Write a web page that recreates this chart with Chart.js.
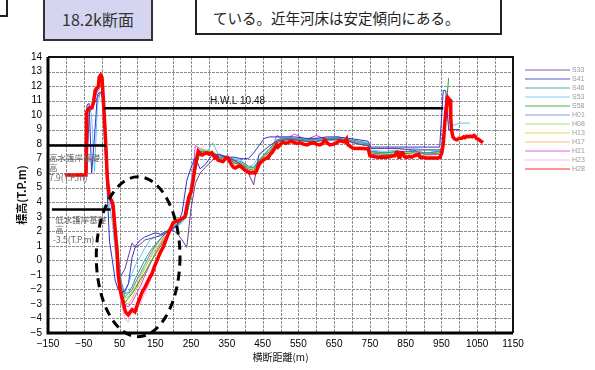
<!DOCTYPE html>
<html lang="ja">
<head>
<meta charset="utf-8">
<title>18.2k断面</title>
<script src="https://cdn.jsdelivr.net/npm/chart.js@4.4.1/dist/chart.umd.min.js"></script>
<style>
  html, body { margin: 0; padding: 0; background: #fff; }
  #wrap { position: relative; width: 595px; height: 370px; overflow: hidden; background: #fff; }
  #wrap canvas { position: absolute; left: 0; top: 0; }
  .corner { position: absolute; left: -12px; top: -12px; width: 16px; height: 25px; border: 2px solid #222; }
  .section-box { position: absolute; left: 43px; top: -4px; width: 106px; height: 41px;
    background: #d5d5f1; border: 2px solid #333; color: #333;
    font: 16px "Noto Sans CJK JP", sans-serif; display: flex; align-items: center; justify-content: center; }
  .note-box { position: absolute; left: 195px; top: -40px; width: 303px; height: 71px;
    background: #fff; border: 2px solid #222; }
  .note-text { position: absolute; left: 213px; top: 7px; line-height: 20px; color: #222;
    font: 14.5px "Noto Sans CJK JP", sans-serif; white-space: nowrap; }
</style>
</head>
<body>
<div id="wrap">
  <canvas id="chart" width="595" height="370"></canvas>
  <div class="corner"></div>
  <div class="section-box">18.2k断面</div>
  <div class="note-box"></div>
  <div class="note-text">ている。近年河床は安定傾向にある。</div>
</div>
<script>
// 測量年度
const surveyYears = ['S33', 'S41', 'S46', 'S53', 'S58', 'H01', 'H08', 'H13', 'H17', 'H21', 'H23', 'H28'];

// 横断距離 (m) of the survey points shared by the older surveys
const stations = [-45, -41, -35, -28, -20, -12, -5, 0, 5, 10,
  16, 22, 30, 38, 46, 55, 65, 75, 85, 95,
  108, 120, 135, 150, 165, 180, 195, 210, 225, 238,
  250, 262, 275, 290, 310, 330, 350, 370, 390, 410,
  425, 440, 455, 470, 490, 510, 540, 570, 600, 630,
  660, 690, 720, 745, 752, 790, 830, 870, 910, 945,
  955, 962, 970, 985, 1000, 1030];

// 標高 (T.P.m) per survey year, one value per station
const S33 = [6.0, 6.0, 10.2, 10.4, 10.8, 11.2, 11.5, 11.6, 10.8, 8.0,
  5.6, 4.4, 3.6, 1.5, -1.1, -1.0, -0.6, 0.3, 1.2, 0.9,
  1.1, 1.4, 1.5, 1.6, 1.7, 1.9, 2.1, 1.9, 1.4, 0.9,
  3.6, 5.3, 6.0, 6.4, 6.9, 7.25, 7.0, 6.9, 6.6, 6.0,
  5.2, 7.3, 7.6, 7.9, 8.2, 8.3, 8.3, 8.2, 8.2, 8.3,
  8.3, 8.2, 8.0, 7.9, 7.7, 7.7, 7.7, 7.6, 7.6, 7.6,
  7.7, 11.3, null, null, null, null];
const S41 = [6.0, 10.7, 10.8, 6.0, 8.5, 11.4, 11.6, 11.5, 11.0, 8.0,
  4.5, 1.3, 0.0, -1.4, -2.0, -2.2, -2.1, -1.6, 0.2, 1.0,
  1.4, 1.6, 1.75, 1.9, 1.8, 2.0, 2.1, 2.4, 3.3, 5.5,
  6.4, 7.1, 6.3, 6.6, 7.3, 7.3, 7.1, 7.1, 7.0, 7.0,
  7.4, 7.9, 8.4, 8.5, 8.5, 8.5, 8.5, 8.4, 8.4, 8.5,
  8.5, 8.4, 8.3, 8.2, 7.8, 7.8, 7.8, 7.8, 7.8, 7.8,
  11.7, 11.7, 9.0, 9.0, 9.0, null];
const S46 = [6.0, 10.4, 10.5, 10.6, 11.3, 11.7, 12.0, 12.1, 10.2, 7.5,
  5.2, 4.3, 3.5, 2.2, 0.5, -1.5, -2.3, -2.2, -1.8, -1.2,
  -0.6, 0.0, 0.6, 1.1, 1.5, 1.9, 2.2, 2.4, 2.7, 3.1,
  4.6, 6.6, 7.5, 7.5, 7.4, 7.1, 7.2, 6.9, 6.8, 6.5,
  6.4, 6.9, 7.3, 7.7, 8.3, 8.4, 8.4, 8.3, 8.35, 8.4,
  8.4, 8.3, 8.2, 8.0, 7.5, 7.4, 7.5, 7.5, 7.4, 7.5,
  7.9, 10.7, 10.6, null, null, null];
const S53 = [6.0, 10.5, 10.6, 10.0, 6.1, 10.6, 11.4, 11.5, 9.5, 7.0,
  5.0, 3.8, 2.6, 0.6, -1.0, -2.0, -2.25, -1.6, -0.9, -0.3,
  0.25, 0.8, 1.4, 1.6, 1.75, 1.9, 2.2, 2.3, 2.6, 3.0,
  5.5, 7.3, 7.6, 7.3, 8.1, 7.1, 7.1, 7.0, 6.9, 6.4,
  6.6, 7.2, 7.6, 7.9, 8.3, 8.5, 8.4, 8.4, 8.3, 8.4,
  8.5, 8.3, 8.2, 8.1, 7.6, 7.5, 7.6, 7.7, 7.6, 7.6,
  8.0, 10.4, 9.45, 9.3, 9.45, 9.45];
const S58 = [6.0, 10.3, 10.5, 10.6, 11.4, 11.8, 12.0, 12.0, 10.5, 8.2,
  6.0, 4.4, 3.7, 2.0, -0.8, -2.1, -2.9, -2.6, -2.3, -1.9,
  -1.3, -0.9, -0.2, 0.4, 1.0, 1.6, 2.1, 2.4, 2.8, 3.2,
  4.4, 6.3, 7.4, 7.5, 7.4, 7.0, 7.1, 6.7, 6.6, 6.3,
  6.2, 6.8, 7.2, 7.5, 8.1, 8.3, 8.3, 8.2, 8.2, 8.3,
  8.3, 8.2, 8.0, 7.9, 7.4, 7.3, 7.3, 7.4, 7.3, 7.4,
  7.6, 10.2, 12.55, null, null, null];
const H01 = [6.0, 10.4, 10.5, 10.5, 11.2, 11.6, 11.9, 12.0, 10.0, 7.8,
  5.5, 4.4, 3.6, 1.8, -0.2, -1.8, -2.5, -2.3, -2.0, -1.5,
  -0.9, -0.3, 0.4, 1.0, 1.5, 1.9, 2.3, 2.5, 2.8, 3.2,
  4.8, 6.7, 7.5, 7.5, 7.4, 7.1, 7.1, 6.8, 6.7, 6.4,
  6.4, 6.9, 7.3, 7.7, 8.2, 8.4, 8.4, 8.3, 8.3, 8.4,
  8.4, 8.3, 8.1, 8.0, 7.5, 7.4, 7.5, 7.5, 7.4, 7.5,
  7.9, 10.8, 10.7, null, null, null];
const H08 = [6.0, 10.3, 10.5, 10.5, 11.3, 11.7, 12.1, 12.2, 10.4, 8.0,
  5.6, 4.5, 3.8, 2.1, -0.4, -1.9, -2.6, -2.5, -2.1, -1.5,
  -1.0, -0.5, 0.2, 0.9, 1.5, 2.0, 2.3, 2.5, 2.8, 3.1,
  4.9, 6.8, 7.6, 7.5, 7.5, 7.1, 7.2, 6.8, 6.7, 6.4,
  6.3, 6.8, 7.3, 7.6, 8.2, 8.4, 8.4, 8.3, 8.3, 8.4,
  8.4, 8.3, 8.1, 8.0, 7.5, 7.4, 7.4, 7.5, 7.4, 7.5,
  7.8, 10.6, 10.7, null, null, null];
const H13 = [6.0, 10.3, 10.5, 10.6, 11.5, 11.8, 12.2, 12.3, 10.5, 8.5,
  6.0, 4.6, 3.9, 2.0, -0.5, -2.0, -2.6, -2.5, -2.2, -1.8,
  -1.2, -0.6, 0.1, 0.7, 1.3, 1.9, 2.3, 2.6, 2.9, 3.5,
  5.0, 6.8, 7.7, 7.6, 7.5, 7.1, 7.2, 6.8, 6.7, 6.4,
  6.3, 6.8, 7.2, 7.5, 8.1, 8.35, 8.35, 8.25, 8.3, 8.35,
  8.4, 8.3, 8.1, 8.0, 7.5, 7.4, 7.4, 7.5, 7.4, 7.5,
  8.0, 10.5, 10.6, null, null, null];
const H17 = [6.0, 10.3, 10.5, 10.6, 11.5, 11.9, 12.3, 12.4, 10.8, 8.2,
  5.8, 4.5, 3.8, 1.9, -0.8, -2.3, -2.9, -3.0, -2.6, -2.1,
  -1.5, -0.9, -0.2, 0.5, 1.1, 1.7, 2.2, 2.5, 2.8, 3.3,
  4.8, 6.9, 7.6, 7.5, 7.4, 7.0, 7.1, 6.7, 6.6, 6.3,
  6.2, 6.6, 7.1, 7.5, 8.1, 8.3, 8.3, 8.2, 8.2, 8.3,
  8.3, 8.2, 8.0, 7.9, 7.4, 7.3, 7.3, 7.4, 7.3, 7.4,
  7.8, 10.7, 10.8, null, null, null];
const H21 = [6.0, 10.3, 10.5, 10.6, 11.6, 12.0, 12.4, 12.5, 11.0, 8.3,
  5.8, 4.4, 3.7, 1.8, -1.0, -2.5, -3.1, -3.2, -2.9, -2.4,
  -1.8, -1.1, -0.3, 0.5, 1.2, 1.9, 2.4, 2.7, 2.9, 3.4,
  5.0, 7.9, 7.7, 7.6, 7.4, 7.0, 7.1, 6.7, 6.6, 6.2,
  6.1, 6.6, 7.0, 7.4, 8.6, 8.3, 8.7, 8.3, 8.6, 8.3,
  8.5, 8.2, 8.0, 7.9, 7.3, 7.2, 7.3, 7.6, 7.3, 7.3,
  7.6, 10.9, 10.9, null, null, null];
const H23 = [6.0, 10.2, 10.5, 10.6, 11.6, 12.0, 12.5, 12.6, 11.0, 8.0,
  5.5, 4.3, 3.6, 1.5, -1.5, -3.0, -4.0, -4.25, -3.4, -3.3,
  -3.0, -2.3, -1.5, -0.3, 0.8, 1.6, 2.0, 2.4, 2.8, 3.3,
  5.0, 7.0, 7.6, 7.5, 7.3, 6.9, 7.0, 6.6, 6.5, 6.1,
  6.0, 6.5, 7.0, 7.4, 8.0, 8.2, 8.3, 8.2, 8.2, 8.3,
  8.3, 8.2, 8.0, 7.9, 7.3, 7.2, 7.2, 7.3, 7.2, 7.3,
  7.6, 10.8, 10.9, null, null, null];

// 平成28年 survey, measured on its own finer set of points
const H28_distance = [-102, -44, -42, -38, -33, -27, -22, -18, -13, -9,
  -7, -3, 1, 5, 9, 12, 16, 19, 23, 28,
  32, 37, 43, 46, 51, 56, 60, 65, 68, 74,
  80, 85, 93, 98, 102, 113, 120, 127, 134, 141,
  148, 155, 163, 172, 181, 191, 200, 210, 219, 226,
  233, 239, 244, 250, 255, 260, 265, 270, 276, 281,
  288, 294, 301, 308, 313, 317, 321, 325, 332, 339,
  346, 353, 358, 364, 369, 373, 380, 387, 394, 401,
  408, 415, 422, 429, 434, 438, 443, 451, 458, 465,
  471, 476, 481, 485, 489, 493, 500, 507, 514, 521,
  528, 535, 545, 554, 564, 574, 583, 591, 600, 610,
  618, 623, 630, 638, 648, 658, 665, 672, 680, 685,
  689, 695, 700, 707, 714, 722, 731, 738, 745, 750,
  760, 772, 785, 797, 808, 815, 820, 824, 828, 831,
  834, 838, 842, 846, 850, 854, 860, 867, 874, 882,
  886, 890, 898, 906, 914, 922, 930, 940, 946, 951,
  955, 958, 961, 965, 968, 971, 974, 976, 978, 982,
  987, 993, 1000, 1007, 1012, 1016, 1021, 1026, 1030, 1036,
  1041, 1044, 1048, 1052, 1058, 1066];
const H28_level = [5.88, 5.88, 10.2, 10.4, 10.5, 10.5, 11.0, 11.7, 11.9, 12.0,
  12.6, 12.75, 12.6, 11.0, 9.2, 7.8, 5.6, 4.9, 4.3, 4.1,
  3.8, 2.3, 0.7, -0.9, -1.9, -2.5, -2.9, -3.4, -3.6, -3.75,
  -3.55, -3.4, -3.55, -3.2, -2.9, -2.2, -1.9, -1.55, -1.2, -0.9,
  -0.4, 0.0, 0.5, 0.9, 1.5, 2.1, 2.6, 2.7, 2.8, 2.9,
  3.0, 3.8, 4.4, 4.7, 5.4, 6.2, 6.9, 7.5, 7.3, 7.25,
  7.35, 7.4, 7.3, 7.4, 7.2, 7.05, 7.1, 6.9, 6.85, 6.8,
  7.0, 7.05, 6.8, 6.55, 6.4, 6.35, 6.45, 6.5, 6.35, 6.2,
  6.1, 6.0, 6.05, 6.0, 6.2, 6.5, 6.7, 6.9, 7.0, 7.05,
  7.3, 7.4, 7.6, 7.75, 7.95, 7.8, 8.0, 8.15, 8.05, 8.1,
  8.2, 8.15, 8.05, 8.1, 8.0, 7.95, 8.05, 8.1, 8.0, 7.95,
  8.05, 8.3, 8.1, 7.95, 8.0, 8.1, 8.25, 8.2, 8.15, 8.35,
  7.95, 7.85, 7.75, 7.7, 7.7, 7.72, 7.7, 7.68, 7.7, 7.2,
  7.15, 7.1, 7.12, 7.1, 7.15, 7.2, 7.2, 7.45, 7.45, 7.1,
  7.1, 7.4, 7.4, 7.15, 7.1, 7.1, 7.15, 7.1, 7.2, 7.25,
  7.3, 7.1, 7.1, 7.05, 7.05, 7.05, 7.05, 7.05, 7.1, 7.4,
  8.0, 9.0, 10.0, 10.8, 11.2, 11.1, 11.05, 9.8, 9.0, 8.5,
  8.35, 8.3, 8.4, 8.4, 8.5, 8.45, 8.55, 8.5, 8.55, 8.5,
  8.6, 8.55, 8.4, 8.35, 8.25, 8.1];

// Axis tick labels
const xTickLabels = [-150, -50, 50, 150, 250, 350, 450, 550, 650, 750, 850, 950, 1050, 1150];
const yTickLabels = [-5, -4, -3, -2, -1, 0, 1, 2, 3, 4, 5, 6, 7, 8, 9, 10, 11, 12, 13, 14];

// Reference elevations (T.P.m)
const HWL = 10.48;
const highBankFoundation = 7.9;
const lowBankFoundation = 3.5;

const olderSurveys = [S33, S41, S46, S53, S58, H01, H08, H13, H17, H21, H23];

const lineColors = ['#6a3d9a', '#2f2fd0', '#2e9a9a', '#5cc8f2', '#2ea02e', '#6d8bd6',
  '#8fe35a', '#ddd23c', '#ffab52', '#e23de2', '#ffa6f2', '#ff0000'];

const toPoints = (xs, ys) => xs.map((d, i) => ({ x: d, y: ys[i] }));

const datasets = olderSurveys.map((levels, i) => ({
  label: surveyYears[i],
  data: toPoints(stations, levels),
  borderColor: lineColors[i],
  borderWidth: 1,
  order: 1
}));
datasets.push({
  label: surveyYears[11],
  data: toPoints(H28_distance, H28_level),
  borderColor: lineColors[11],
  borderWidth: 3.5,
  order: 0
});

const minus = v => String(v).replace('-', '\u2212');

// dashed grid on every scale tick, drawn under the survey lines
const dashedGrid = {
  id: 'dashedGrid',
  beforeDatasetsDraw(chart) {
    const { ctx, chartArea: a, scales: { x, y } } = chart;
    ctx.save();
    ctx.strokeStyle = '#8e8e8e';
    ctx.lineWidth = 1;
    ctx.setLineDash([3, 1]);
    x.ticks.forEach(t => {
      const p = Math.round(x.getPixelForValue(t.value)) + 0.5;
      ctx.beginPath();
      ctx.moveTo(p, a.top);
      ctx.lineTo(p, a.bottom);
      ctx.stroke();
    });
    y.ticks.forEach(t => {
      const p = Math.round(y.getPixelForValue(t.value)) + 0.5;
      ctx.beginPath();
      ctx.moveTo(a.left, p);
      ctx.lineTo(a.right, p);
      ctx.stroke();
    });
    ctx.restore();
  }
};

// frame, reference lines, notes and the dashed ellipse round the low-water channel
const overlay = {
  id: 'overlay',
  afterDatasetsDraw(chart) {
    const { ctx, chartArea: a, scales: { x, y } } = chart;
    const px = v => x.getPixelForValue(v);
    const py = v => y.getPixelForValue(v);
    ctx.save();
    ctx.strokeStyle = '#111';
    ctx.lineWidth = 2;
    ctx.beginPath();
    ctx.moveTo(a.left, a.top);
    ctx.lineTo(a.right, a.top);
    ctx.lineTo(a.right, a.bottom);
    ctx.stroke();
    ctx.strokeStyle = '#000';
    ctx.lineWidth = 3;
    ctx.beginPath();
    ctx.moveTo(a.left, a.top);
    ctx.lineTo(a.left, a.bottom);
    ctx.lineTo(a.right, a.bottom);
    ctx.stroke();

    const hline = (v, x0, x1) => {
      ctx.beginPath();
      ctx.moveTo(px(x0), py(v));
      ctx.lineTo(px(x1), py(v));
      ctx.stroke();
    };
    ctx.lineWidth = 2.5;
    hline(HWL, 6, 955);
    hline(highBankFoundation, -150, 12);
    hline(lowBankFoundation, -139, 25);

    ctx.fillStyle = '#111';
    ctx.font = '10px "Liberation Sans", Arial, sans-serif';
    ctx.textBaseline = 'bottom';
    ctx.fillText('H.W.L ' + HWL, px(303), py(HWL) - 2);

    ctx.fillStyle = '#666';
    ctx.font = '8.5px "Noto Sans CJK JP", sans-serif';
    ctx.textBaseline = 'middle';
    const hb = py(highBankFoundation);
    ctx.fillText('高水護岸基礎', px(-150) + 1, hb + 12);
    ctx.fillText('高', px(-150) + 1, hb + 22);
    ctx.fillText(highBankFoundation + '(T.P.m)', px(-150) + 1, hb + 32);
    const lb = py(lowBankFoundation);
    ctx.fillText('低水護岸基礎', px(-130), lb + 10);
    ctx.fillText('高', px(-130), lb + 20);
    ctx.fillText('-' + lowBankFoundation + '(T.P.m)', px(-136), lb + 30);

    ctx.strokeStyle = '#000';
    ctx.lineWidth = 3;
    ctx.setLineDash([9, 6]);
    const cx = px(102), cy = py(0.25);
    const rx = px(219) - cx, ry = cy - py(5.75);
    ctx.beginPath();
    ctx.ellipse(cx, cy, rx, ry, 0, 0, Math.PI * 2);
    ctx.stroke();
    ctx.restore();
  },
  afterDraw(chart) {
    const { ctx, chartArea: a } = chart;
    ctx.save();
    ctx.font = '7px "Liberation Sans", Arial, sans-serif';
    ctx.textBaseline = 'middle';
    chart.data.datasets.forEach((ds, i) => {
      const yy = 70 + i * 9;
      ctx.globalAlpha = 0.55;
      ctx.strokeStyle = ds.borderColor;
      ctx.lineWidth = 1.5;
      ctx.beginPath();
      ctx.moveTo(a.right + 12, yy);
      ctx.lineTo(a.right + 57, yy);
      ctx.stroke();
      ctx.globalAlpha = 1;
      ctx.fillStyle = '#9a9a9a';
      ctx.fillText(ds.label, a.right + 59, yy + 0.5);
    });
    ctx.restore();
  }
};

const hiddenGrid = { display: false, drawTicks: false };

new Chart(document.getElementById('chart'), {
  type: 'line',
  data: { datasets },
  options: {
    responsive: false,
    animation: false,
    layout: { padding: { left: 0, top: 57, right: 82, bottom: 0 } },
    elements: { point: { radius: 0 }, line: { tension: 0 } },
    plugins: { legend: { display: false }, tooltip: { enabled: false } },
    scales: {
      x: {
        type: 'linear',
        min: -150,
        max: 1150,
        afterFit: s => { s.height = 37; },
        grid: hiddenGrid,
        border: { display: false },
        ticks: {
          stepSize: 50,
          autoSkip: false,
          maxRotation: 0,
          padding: 5,
          color: '#000',
          font: { family: '"Liberation Sans", Arial, sans-serif', size: 10 },
          callback: v => xTickLabels.includes(v) ? minus(v) : ''
        },
        title: {
          display: true,
          text: '横断距離(m)',
          color: '#111',
          font: { family: '"Noto Sans CJK JP", sans-serif', size: 10 },
          padding: { top: 0, bottom: 7 }
        }
      },
      y: {
        type: 'linear',
        min: -5,
        max: 14,
        afterFit: s => { s.width = 48; },
        grid: hiddenGrid,
        border: { display: false },
        ticks: {
          stepSize: 1,
          autoSkip: false,
          padding: 6,
          color: '#000',
          font: { family: '"Liberation Sans", Arial, sans-serif', size: 10 },
          callback: v => yTickLabels.includes(v) ? minus(v) : ''
        },
        title: {
          display: true,
          text: '標高(T.P.m)',
          color: '#111',
          font: { family: '"Noto Sans CJK JP", sans-serif', size: 11, weight: 'bold' },
          padding: { top: 15, bottom: 0 }
        }
      }
    }
  },
  plugins: [dashedGrid, overlay]
});
</script>
</body>
</html>
